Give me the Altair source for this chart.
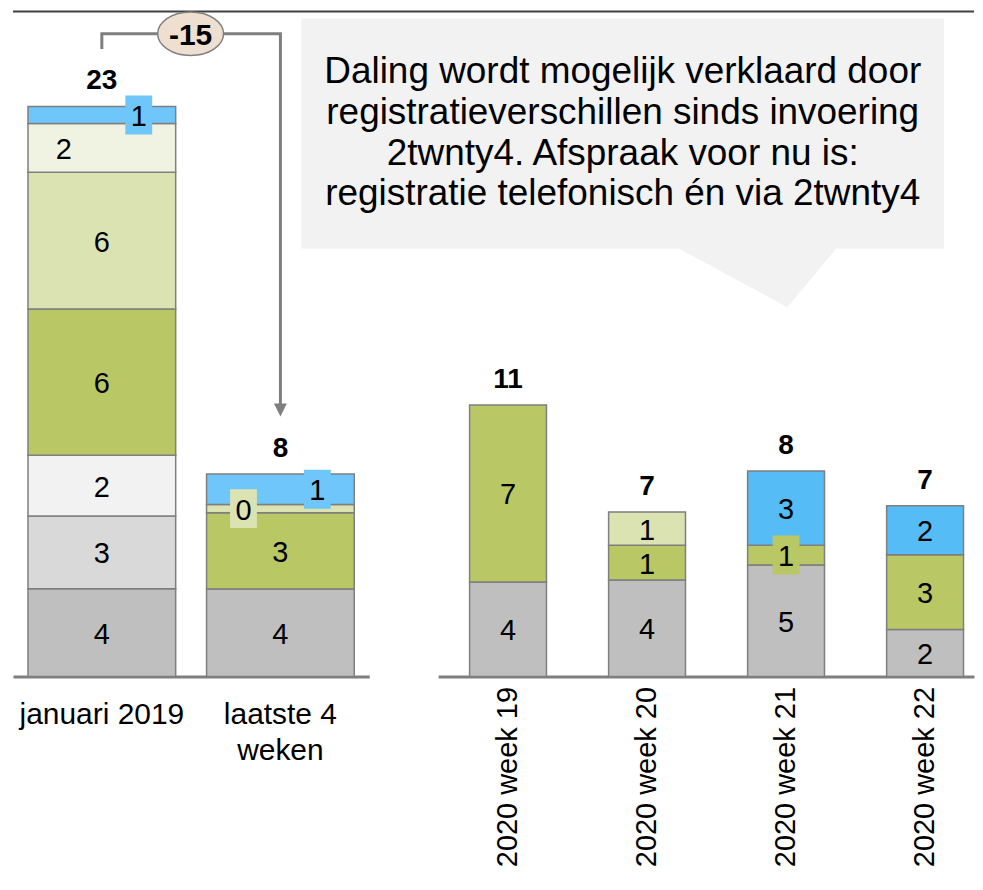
import altair as alt
import pandas as pd

# ---------------- data ----------------
left_categories = ["januari 2019", "laatste 4 weken"]
left_series = ["groep 1", "groep 2", "groep 3", "groep 4", "groep 5", "groep 6", "groep 7"]
januari_2019 = [3.55, 2.95, 2.46, 5.93, 5.53, 1.98, 0.69]
laatste_4_weken = [3.54, 0.0, 0.0, 3.09, 0.34, 0.0, 1.23]

right_categories = ["2020 week 19", "2020 week 20", "2020 week 21", "2020 week 22"]
right_series = ["groep 1", "groep 4", "groep 5", "groep 7"]
week_19 = [3.83, 7.17, 0.0, 0.0]
week_20 = [3.91, 1.41, 1.34, 0.0]
week_21 = [4.52, 0.80, 0.0, 3.00]
week_22 = [1.90, 3.03, 0.0, 1.99]

change_text = "-15"
callout_lines = [
    "Daling wordt mogelijk verklaard door",
    "registratieverschillen sinds invoering",
    "2twnty4. Afspraak voor nu is:",
    "registratie telefonisch én via 2twnty4",
]

# ---------------- styling ----------------
FONT = "Liberation Sans"
GRAY = "#7F7F7F"
left_colors = ["#BFBFBF", "#D9D9D9", "#F2F2F2", "#B9C764", "#DCE3B2", "#F0F3E2", "#6EC6FA"]
right_colors = ["#BFBFBF", "#B9C764", "#DCE3B2", "#55BCF5"]
# (category, series) -> (horizontal shift of the label in px, draw a coloured patch behind it)
left_label_tweaks = {
    ("januari 2019", "groep 6"): (-38, False),
    ("januari 2019", "groep 7"): (37, True),
    ("laatste 4 weken", "groep 5"): (-37, True),
    ("laatste 4 weken", "groep 7"): (37, True),
}
right_label_tweaks = {("2020 week 21", "groep 4"): (0, True)}

Y_MAX = 27
PLOT_H = 668
LEFT_W = 357
RIGHT_W = 537
BOX_SHAPE = "M-0.69,-1L0.69,-1L0.69,1L-0.69,1Z"


def segments(categories, series, rows, tweaks):
    recs = []
    for cat, vals in zip(categories, rows):
        base = 0.0
        for i, (s, v) in enumerate(zip(series, vals)):
            if v > 0:
                dx, box = tweaks.get((cat, s), (0, False))
                recs.append({
                    "cat": cat, "series": s, "idx": i, "value": v,
                    "mid": base + v / 2, "label": str(int(round(v))),
                    "dx": dx, "box": box, "tweaked": (cat, s) in tweaks,
                })
            base += v
    return pd.DataFrame(recs)


def totals(categories, rows):
    return pd.DataFrame({
        "cat": categories,
        "total": [sum(r) for r in rows],
        "label": [str(int(round(sum(r)))) for r in rows],
    })


YS = alt.Scale(domain=[0, Y_MAX], nice=False, zero=True)


def bar_layers(seg, tot, X, series, colors):
    color = alt.Color("series:N", scale=alt.Scale(domain=series, range=colors), legend=None)
    base = alt.Chart(seg)
    layers = [
        base.mark_bar(stroke=GRAY, strokeWidth=1.5).encode(
            x=X,
            y=alt.Y("value:Q", stack="zero", scale=YS, axis=None),
            color=color,
            order=alt.Order("idx:Q", sort="ascending"),
        )
    ]
    for dx in sorted(set(seg.loc[seg["tweaked"], "dx"])):
        layers.append(
            base.transform_filter(f"datum.tweaked && datum.box && datum.dx == {dx}")
            .mark_point(shape=BOX_SHAPE, size=1521, filled=True, opacity=1, strokeWidth=0, xOffset=dx)
            .encode(x=X, y=alt.Y("mid:Q", scale=YS, axis=None), color=color)
        )
    layers.append(
        base.transform_filter("!datum.tweaked")
        .mark_text(font=FONT, fontSize=29, baseline="middle", dy=2, color="black")
        .encode(x=X, y=alt.Y("mid:Q", scale=YS, axis=None), text="label:N")
    )
    for dx in sorted(set(seg.loc[seg["tweaked"], "dx"])):
        layers.append(
            base.transform_filter(f"datum.tweaked && datum.dx == {dx}")
            .mark_text(font=FONT, fontSize=29, baseline="middle", dy=2, dx=dx, color="black")
            .encode(x=X, y=alt.Y("mid:Q", scale=YS, axis=None), text="label:N")
        )
    layers.append(
        alt.Chart(tot)
        .mark_text(font=FONT, fontSize=28, fontWeight="bold", baseline="alphabetic", dy=-17, color="black")
        .encode(x=X, y=alt.Y("total:Q", scale=YS, axis=None), text="label:N")
    )
    return layers


# ---------------- left panel ----------------
left_rows = [januari_2019, laatste_4_weken]
left_seg = segments(left_categories, left_series, left_rows, left_label_tweaks)
left_tot = totals(left_categories, left_rows)

left_axis = alt.Axis(
    title=None, labelAngle=0, labelFont=FONT, labelFontSize=30, labelColor="black",
    labelPadding=23, ticks=False, tickSize=0, domainColor=GRAY, domainWidth=3,
    labelLineHeight=36, labelLimit=400,
    labelExpr="datum.label == 'laatste 4 weken' ? ['laatste 4', 'weken'] : datum.label",
)
XL = alt.X("cat:N", sort=left_categories,
           scale=alt.Scale(paddingInner=0.173, paddingOuter=0.084), axis=left_axis)

one = pd.DataFrame({"a": [0]})
bracket = pd.DataFrame({
    "cat": ["januari 2019", "januari 2019", "laatste 4 weken", "laatste 4 weken"],
    "ypos": [25.42, 26.03, 26.03, 10.95],
    "o": [0, 1, 2, 3],
})
arrow = pd.DataFrame({"cat": ["laatste 4 weken"], "ypos": [10.79]})
badge = pd.DataFrame({"ypos": [26.03], "t": [change_text]})

left_layers = bar_layers(left_seg, left_tot, XL, left_series, left_colors)
left_layers += [
    alt.Chart(one).mark_rule(color="#404040", strokeWidth=2).encode(
        x=alt.value(0), x2=alt.value(963), y=alt.value(1.5)),
    alt.Chart(bracket).mark_line(color=GRAY, strokeWidth=3, strokeJoin="miter").encode(
        x=XL, y=alt.Y("ypos:Q", scale=YS, axis=None), order="o:Q"),
    alt.Chart(arrow).mark_point(shape="M-1,-1L1,-1L0,1Z", size=169, filled=True,
                                color=GRAY, opacity=1).encode(
        x=XL, y=alt.Y("ypos:Q", scale=YS, axis=None)),
    alt.Chart(badge).mark_point(shape="M-1,0A1,0.66,0,1,0,1,0A1,0.66,0,1,0,-1,0Z",
                                size=4356, filled=True, fill="#EFDFD0", stroke=GRAY,
                                strokeWidth=1.5, opacity=1).encode(
        x=alt.value(178), y=alt.Y("ypos:Q", scale=YS, axis=None)),
    alt.Chart(badge).mark_text(font=FONT, fontSize=30, fontWeight="bold",
                               baseline="middle", dy=2, color="black").encode(
        x=alt.value(178), y=alt.Y("ypos:Q", scale=YS, axis=None), text="t:N"),
]
left = alt.layer(*left_layers).properties(width=LEFT_W, height=PLOT_H)

# ---------------- right panel ----------------
right_rows = [week_19, week_20, week_21, week_22]
right_seg = segments(right_categories, right_series, right_rows, right_label_tweaks)
right_tot = totals(right_categories, right_rows)

right_axis = alt.Axis(
    title=None, labelAngle=-90, labelAlign="right", labelBaseline="middle",
    labelFont=FONT, labelFontSize=29, labelColor="black", labelPadding=10,
    ticks=False, tickSize=0, domainColor=GRAY, domainWidth=3, labelLimit=400,
)
XR = alt.X("cat:N", sort=right_categories,
           scale=alt.Scale(paddingInner=0.447, paddingOuter=0.151, align=0.75), axis=right_axis)

callout = [
    alt.Chart(one).mark_rect(color="#F2F2F2").encode(
        x=alt.value(-137), x2=alt.value(507), y=alt.value(9), y2=alt.value(239)),
    alt.Chart(one).mark_point(shape="M-1,-0.38L1,-0.38L0.379,0.366Z", size=25921,
                              filled=True, color="#F2F2F2", opacity=1).encode(
        x=alt.value(319.5), y=alt.value(268.5)),
    alt.Chart(one).mark_text(font=FONT, fontSize=37, lineHeight=41, align="center",
                             baseline="alphabetic", color="black").encode(
        x=alt.value(185), y=alt.value(73), text=alt.value(callout_lines)),
]
right = alt.layer(*(callout + bar_layers(right_seg, right_tot, XR, right_series, right_colors))
                  ).properties(width=RIGHT_W, height=PLOT_H)

chart = (
    alt.hconcat(left, right, spacing=69, bounds="flush")
    .resolve_scale(x="independent", y="independent", color="independent")
    .properties(padding={"left": 4, "top": 0, "right": 0, "bottom": 0}, background="white")
    .configure_view(stroke=None)
)

chart.save("out.html", embed_options={"renderer": "svg", "actions": False})
